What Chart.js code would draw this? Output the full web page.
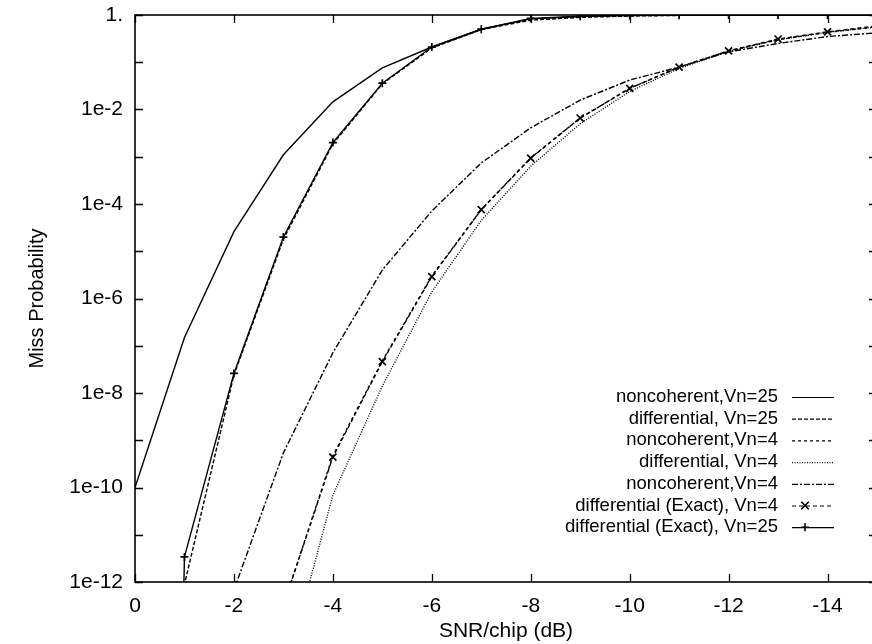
<!DOCTYPE html>
<html>
<head>
<meta charset="utf-8">
<script src="https://cdn.jsdelivr.net/npm/chart.js@4"></script>
<style>
  html, body { margin: 0; padding: 0; background: #fff; overflow: hidden; width: 872px; height: 644px; }
  canvas { display: block; }
</style>
</head>
<body>
<canvas id="c" width="885" height="644"></canvas>
<script>
// SNR/chip values (shown negated on the axis, in dB)
const snr = [0, 1, 2, 3, 4, 5, 6, 7, 8, 9, 10, 11, 12, 13, 14, 15];

const noncoherentVn25 = [1e-10, 1.5e-7, 2.6e-5, 1.1e-3, 1.45e-2, 7.6e-2, 0.21, 0.5, 0.83, 0.93, 0.98, 0.99, 1, 1, 1, 1];
const differentialVn25 = [1e-40, 8.9e-13, 2.4e-8, 1.8e-5, 1.86e-3, 3.5e-2, 0.2, 0.49, 0.78, 0.89, 0.95, 0.98, 0.99, 0.995, 0.997, 0.998];
const noncoherentVn4 = [null, null, null, 3.2e-13, 4.7e-10, 4.8e-8, 3.0e-6, 7.6e-5, 9.5e-4, 6.6e-3, 2.8e-2, 7.9e-2, 0.174, 0.30, 0.43, 0.56];
const differentialVn4 = [null, null, null, 8.5e-15, 6.9e-11, 1.4e-8, 1.38e-6, 4.5e-5, 6.3e-4, 5.0e-3, 2.4e-2, 7.4e-2, 0.17, 0.30, 0.43, 0.56];
const noncoherentVn4b = [null, null, 6.8e-13, 5.4e-10, 7.1e-8, 4.0e-6, 7.1e-5, 7.4e-4, 4.1e-3, 1.58e-2, 4.2e-2, 7.9e-2, 0.166, 0.25, 0.35, 0.42];
const diffExactVn4 = [null, null, null, 3.2e-13, 4.4e-10, 4.6e-8, 2.9e-6, 7.6e-5, 9.3e-4, 6.6e-3, 2.8e-2, 7.9e-2, 0.174, 0.31, 0.44, 0.59];
const diffExactVn25 = [1e-60, 3.4e-12, 2.6e-8, 2.0e-5, 2.0e-3, 3.6e-2, 0.21, 0.5, 0.85, 0.94, 0.977, 0.99, 0.995, 0.998, 0.998, 1];

const seriesLabels = [
  "noncoherent,Vn=25",
  "differential, Vn=25",
  "noncoherent,Vn=4",
  "differential, Vn=4",
  "noncoherent,Vn=4",
  "differential (Exact), Vn=4",
  "differential (Exact), Vn=25"
];

const xTickValues = [0, 2, 4, 6, 8, 10, 12, 14];
const xTickLabels = ["0", "-2", "-4", "-6", "-8", "-10", "-12", "-14"];
const yTickValues = [1, 1e-2, 1e-4, 1e-6, 1e-8, 1e-10, 1e-12];
const yTickLabels = ["1.", "1e-2", "1e-4", "1e-6", "1e-8", "1e-10", "1e-12"];
const yMarkValues = [1, 1e-1, 1e-2, 1e-3, 1e-4, 1e-5, 1e-6, 1e-7, 1e-8, 1e-9, 1e-10, 1e-11, 1e-12];

function pts(arr) { return snr.map((x, i) => ({ x: x, y: arr[i] })).filter(p => p.y !== null); }

const FONT = '"Liberation Sans", Arial, Helvetica, sans-serif';

function ds(label, data, dash, pointStyle, radius) {
  return {
    label: label,
    data: pts(data),
    borderColor: '#000',
    backgroundColor: '#000',
    borderWidth: 1.4,
    borderDash: dash,
    pointStyle: pointStyle || 'circle',
    pointRadius: pointStyle ? radius : 0,
    pointBorderWidth: 1.7,
    pointBorderColor: '#000',
    tension: 0,
    fill: false
  };
}

const datasets = [
  ds(seriesLabels[0], noncoherentVn25, []),
  ds(seriesLabels[1], differentialVn25, [4, 2]),
  ds(seriesLabels[2], noncoherentVn4, [3, 3]),
  ds(seriesLabels[3], differentialVn4, [1, 1.5]),
  ds(seriesLabels[4], noncoherentVn4b, [6, 2, 2, 2]),
  ds(seriesLabels[5], diffExactVn4, [4, 3], 'crossRot', 5),
  ds(seriesLabels[6], diffExactVn25, [], 'cross', 4)
];

const framePlugin = {
  id: 'frame',
  afterDatasetsDraw(chart) {
    const { ctx, chartArea: a, scales: { x, y } } = chart;
    ctx.save();
    ctx.strokeStyle = '#000';
    ctx.lineWidth = 1.6;
    ctx.setLineDash([]);
    ctx.strokeRect(a.left, a.top, a.right - a.left, a.bottom - a.top);
    const L = 8;
    ctx.lineWidth = 1.3;
    ctx.beginPath();
    yMarkValues.forEach(v => {
      const py = Math.round(y.getPixelForValue(v)) + 0.5;
      ctx.moveTo(a.left, py); ctx.lineTo(a.left + L, py);
      ctx.moveTo(a.right, py); ctx.lineTo(a.right - L, py);
    });
    xTickValues.forEach(v => {
      const px = Math.round(x.getPixelForValue(v)) + 0.5;
      ctx.moveTo(px, a.bottom); ctx.lineTo(px, a.bottom - L);
      ctx.moveTo(px, a.top); ctx.lineTo(px, a.top + L);
    });
    ctx.stroke();

    // legend inside plot, bottom right
    ctx.font = '18.5px ' + FONT;
    ctx.fillStyle = '#000';
    ctx.textAlign = 'right';
    ctx.textBaseline = 'middle';
    const textRight = 778, s0 = 792, s1 = 834, rowTop = 397, rowH = 21.7;
    chart.data.datasets.forEach((d, i) => {
      const cy = rowTop + i * rowH;
      ctx.fillText(d.label, textRight, cy);
      ctx.save();
      ctx.lineWidth = 1.2;
      ctx.setLineDash(d.borderDash || []);
      ctx.beginPath();
      ctx.moveTo(s0, cy + 0.5); ctx.lineTo(s1, cy + 0.5);
      ctx.stroke();
      ctx.restore();
      if (d.pointRadius > 0) {
        const m = (s0 + s1) / 2 - 8;
        const r = d.pointRadius;
        ctx.save();
        ctx.lineWidth = 1.6;
        ctx.setLineDash([]);
        ctx.beginPath();
        if (d.pointStyle === 'crossRot') {
          const k = r * 0.75;
          ctx.moveTo(m - k, cy - k); ctx.lineTo(m + k, cy + k);
          ctx.moveTo(m - k, cy + k); ctx.lineTo(m + k, cy - k);
        } else {
          ctx.moveTo(m - r, cy); ctx.lineTo(m + r, cy);
          ctx.moveTo(m, cy - r); ctx.lineTo(m, cy + r);
        }
        ctx.stroke();
        ctx.restore();
      }
    });
    ctx.restore();
  }
};

Chart.defaults.font.family = FONT;
Chart.defaults.color = '#000';

new Chart(document.getElementById('c'), {
  type: 'line',
  data: { datasets: datasets },
  options: {
    responsive: false,
    animation: false,
    devicePixelRatio: 1,
    layout: { padding: { top: 15, right: 8, left: 0, bottom: 0 } },
    plugins: { legend: { display: false }, tooltip: { enabled: false } },
    elements: { line: { borderJoinStyle: 'miter' } },
    scales: {
      x: {
        type: 'linear',
        min: 0,
        max: 15,
        grid: { display: false, drawTicks: false },
        border: { display: false },
        afterBuildTicks: s => { s.ticks = xTickValues.map(v => ({ value: v })); },
        afterFit: s => { s.height = 62; s.paddingLeft = 0; s.paddingRight = 0; },
        ticks: {
          padding: 12,
          font: { size: 21 },
          maxRotation: 0,
          autoSkip: false,
          callback: (v, i) => xTickLabels[i]
        },
        title: { display: true, text: 'SNR/chip (dB)', font: { size: 21 }, padding: { top: 0, bottom: 0 } }
      },
      y: {
        type: 'logarithmic',
        min: 1e-12,
        max: 1,
        grid: { display: false, drawTicks: false },
        border: { display: false },
        afterBuildTicks: s => { s.ticks = yTickValues.map(v => ({ value: v })); },
        afterFit: s => { s.width = 135; s.paddingTop = 0; s.paddingBottom = 0; },
        ticks: {
          padding: 12,
          font: { size: 21 },
          autoSkip: false,
          callback: (v, i) => yTickLabels[i]
        },
        title: { display: true, text: 'Miss Probability', font: { size: 20 }, padding: { top: 25, bottom: 0 } }
      }
    }
  },
  plugins: [framePlugin]
});
</script>
</body>
</html>
